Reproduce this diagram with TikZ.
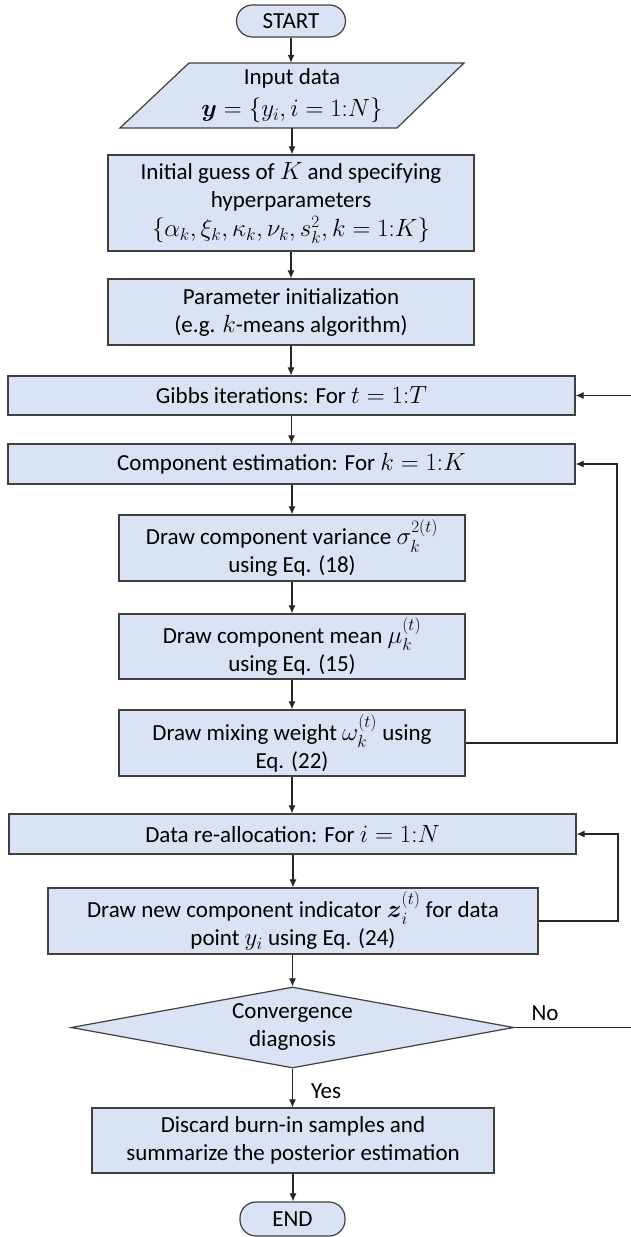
\documentclass[tikz,border=0pt]{standalone}
\usepackage{amsmath}
\usepackage{fontspec}
\setmainfont{Carlito}
\usetikzlibrary{shapes.geometric,arrows.meta}
\definecolor{boxfill}{RGB}{218,227,243}
\definecolor{boxline}{RGB}{64,64,64}
\tikzset{
  base/.style={draw=boxline, fill=boxfill, line width=1.2pt, align=center, inner sep=0pt,
    font=\fontsize{23}{28}\selectfont},
  procbox/.style={base, rectangle},
  termbox/.style={base, rectangle, rounded corners=16pt},
  decbox/.style={base, diamond, aspect=5.47},
  arr/.style={draw=black!85, line width=1.1pt, -{Latex[length=8pt,width=7pt]}},
  lbl/.style={font=\fontsize{23}{26}\selectfont, inner sep=0pt}
}
\begin{document}
\begin{tikzpicture}[x=1pt,y=-1pt]
\useasboundingbox (0,0) rectangle (630,1237);
\fill[white] (0,0) rectangle (630,1237);
% nodes
\node[termbox, minimum width=109pt, minimum height=32pt] (start) at (291,21) {START};
\draw[base] (189,63) -- (464,63) -- (397,128) -- (120,128) -- cycle;
\node[align=center, inner sep=0pt, font=\fontsize{23}{28}\selectfont, minimum width=276pt, minimum height=65pt] (input) at (292,95.5)
  {Input data\\[4pt] $\boldsymbol{y}=\{y_i, i=1{:}N\}$};
\node[procbox, minimum width=366pt, minimum height=96pt] (init) at (291,203)
  {Initial guess of $K$ and specifying\\ hyperparameters\\[1pt] $\{\alpha_k,\xi_k,\kappa_k,\nu_k,s_k^2,k=1{:}K\}$};
\node[procbox, minimum width=366pt, minimum height=66pt] (param) at (291,312)
  {Parameter initialization\\ (e.g. $k$-means algorithm)};
\node[procbox, minimum width=567pt, minimum height=39pt] (gibbs) at (291.5,395.5)
  {Gibbs iterations: For $t=1{:}T$};
\node[procbox, minimum width=567pt, minimum height=40pt] (comp) at (291.5,464)
  {Component estimation: For $k=1{:}K$};
\node[procbox, minimum width=346pt, minimum height=66pt] (var) at (292,548)
  {Draw component variance $\sigma_k^{2(t)}$\\ using Eq. (18)};
\node[procbox, minimum width=346pt, minimum height=65pt] (mean) at (292,646.5)
  {Draw component mean $\mu_k^{(t)}$\\ using Eq. (15)};
\node[procbox, minimum width=346pt, minimum height=66pt] (mix) at (292,743)
  {Draw mixing weight $\omega_k^{(t)}$ using\\ Eq. (22)};
\node[procbox, minimum width=567pt, minimum height=40pt] (realloc) at (292.5,834)
  {Data re-allocation: For $i=1{:}N$};
\node[procbox, minimum width=490pt, minimum height=66pt] (drawnew) at (293,921)
  {Draw new component indicator $\boldsymbol{z}_i^{(t)}$ for data\\ point $y_i$ using Eq. (24)};
\node[decbox, minimum width=443pt, minimum height=81pt] (conv) at (292.5,1027.5)
  {Convergence\\ diagnosis};
\node[procbox, minimum width=402pt, minimum height=65pt] (discard) at (293,1140.5)
  {Discard burn-in samples and\\ summarize the posterior estimation};
\node[termbox, minimum width=105pt, minimum height=34pt] (end) at (292.5,1219) {END};
% straight connectors
\draw[arr] (start.south) -- (start.south |- input.north);
\draw[arr] (input.south) -- (input.south |- init.north);
\draw[arr] (init.south) -- (param.north);
\draw[arr] (param.south) -- (param.south |- gibbs.north);
\draw[arr] (gibbs.south) -- (gibbs.south |- comp.north);
\draw[arr] (comp.south -| var.north) -- (var.north);
\draw[arr] (var.south) -- (mean.north);
\draw[arr] (mean.south) -- (mix.north);
\draw[arr] (mix.south) -- (mix.south |- realloc.north);
\draw[arr] (realloc.south -| drawnew.north) -- (drawnew.north);
\draw[arr] (drawnew.south -| conv.north) -- (conv.north);
\draw[arr] (conv.south) -- (conv.south |- discard.north);
\draw[arr] (discard.south) -- (discard.south |- end.north);
% loops
\coordinate (loopk) at (617,743);
\draw[arr] (mix.east) -- (loopk) |- (comp.east);
\coordinate (loopi) at (618,921);
\draw[arr] (drawnew.east) -- (loopi) |- (realloc.east);
\coordinate (loopt) at (640,1027.5);
\draw[arr] (conv.east) -- (loopt) |- (gibbs.east);
% labels
\node[lbl] (no) at (545,1013) {No};
\node[lbl] (yes) at (326,1091) {Yes};
\end{tikzpicture}
\end{document}
